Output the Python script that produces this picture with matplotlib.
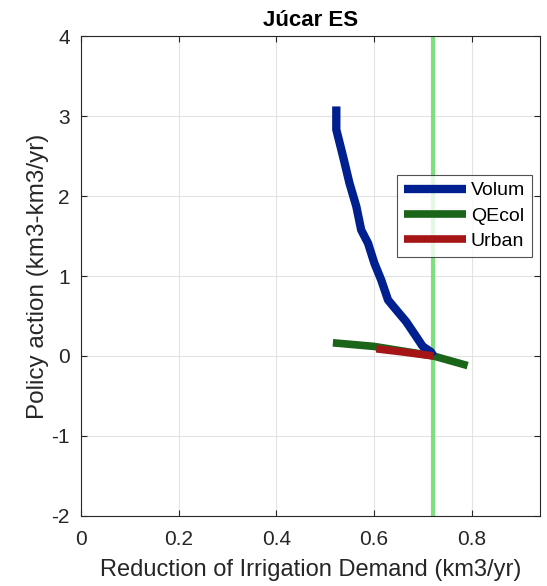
import matplotlib
matplotlib.use("Agg")
import matplotlib.pyplot as plt

plt.rcParams['font.family'] = ['Liberation Sans', 'DejaVu Sans']
plt.rcParams['axes.unicode_minus'] = False

# Policy action curves against reduction of irrigation demand (km3/yr)
volum_x = [0.523, 0.523, 0.537, 0.550, 0.564, 0.574, 0.588, 0.601, 0.615, 0.629,
           0.646, 0.666, 0.687, 0.700, 0.717, 0.722]
volum_y = [3.12, 2.83, 2.49, 2.16, 1.87, 1.575, 1.41, 1.16, 0.95, 0.70,
           0.575, 0.43, 0.24, 0.12, 0.05, 0.0]

qecol_x = [0.516, 0.600, 0.722, 0.792]
qecol_y = [0.165, 0.12, 0.0, -0.12]

urban_x = [0.605, 0.660, 0.722]
urban_y = [0.09, 0.05, 0.0]

baseline_x = 0.722

x_ticks = [0, 0.2, 0.4, 0.6, 0.8]
y_ticks = [-2, -1, 0, 1, 2, 3, 4]

fig = plt.figure(figsize=(5.47, 5.86), dpi=100)
ax = fig.add_axes([0.148, 0.1195, 0.839, 0.819])

ax.grid(True, color='#e3e3e3', linewidth=0.8, zorder=0)
ax.set_axisbelow(True)

ax.axvline(baseline_x, color='#7ddf7d', linewidth=3, zorder=1)
ax.plot(volum_x, volum_y, color='#002090', linewidth=6, label='Volum', zorder=3,
        solid_capstyle='butt')
ax.plot(qecol_x, qecol_y, color='#1b651b', linewidth=5.5, label='QEcol', zorder=2,
        solid_capstyle='butt')
ax.plot(urban_x, urban_y, color='#a61515', linewidth=5.5, label='Urban', zorder=4,
        solid_capstyle='butt')

ax.set_xlim(0, 0.94)
ax.set_ylim(-2, 4)
ax.set_xticks(x_ticks)
ax.set_xticklabels(['0', '0.2', '0.4', '0.6', '0.8'])
ax.set_yticks(y_ticks)
ax.tick_params(direction='in', labelsize=15, top=True, right=True,
               length=4, color='#262626', labelcolor='#262626')
ax.tick_params(axis='y', pad=8)
ax.tick_params(axis='x', pad=10)
for s in ax.spines.values():
    s.set_color('#262626')
    s.set_linewidth(0.8)

ax.set_title('Júcar ES', fontsize=16, fontweight='bold', pad=7)
ax.set_xlabel('Reduction of Irrigation Demand (km3/yr)', fontsize=17,
              color='#262626', labelpad=7)
ax.set_ylabel('Policy action (km3-km3/yr)', fontsize=17.5, color='#262626',
              labelpad=2)

leg = ax.legend(loc='upper left', bbox_to_anchor=(0.6885, 0.7104), fontsize=14,
                frameon=True, fancybox=False, edgecolor='#262626',
                handlelength=3.2, handletextpad=0.25, borderpad=0.35,
                labelspacing=0.4, borderaxespad=0)
leg.get_frame().set_linewidth(0.8)

fig.savefig('out.png', dpi=100)
